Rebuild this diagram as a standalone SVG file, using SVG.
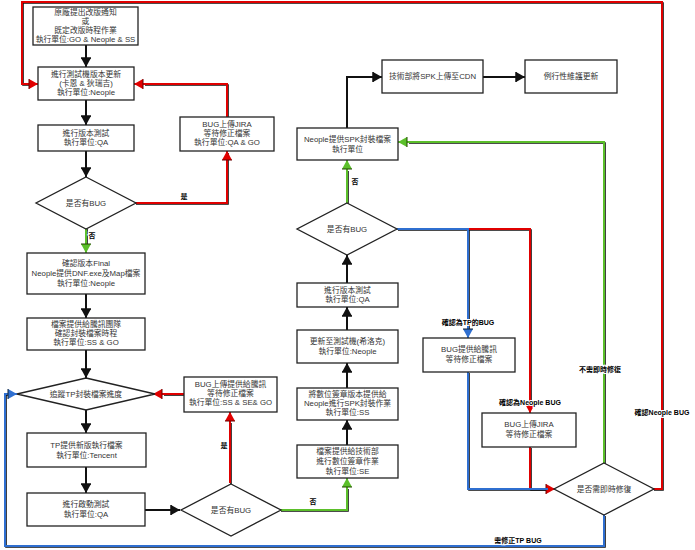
<svg xmlns="http://www.w3.org/2000/svg" width="695" height="550" viewBox="0 0 695 550">
<style>
.box{fill:#fff;stroke:#222;stroke-width:1.3}
.t{font-family:"Liberation Sans","Noto Sans CJK TC",sans-serif;font-size:7.8px;fill:#333;text-anchor:middle}
.lb{font-family:"Liberation Sans","Noto Sans CJK TC",sans-serif;font-size:7px;font-weight:bold;fill:#000;text-anchor:middle;stroke:#fff;stroke-width:2;paint-order:stroke}
.c{fill:none;stroke-width:2}
.s{fill:none;stroke:#111;stroke-width:1.6}
.k{stroke:#111}
.r{stroke:#e00000}
.g{stroke:#5bbf2a}
.b{stroke:#2f6fd0}
</style>
<defs>
<marker id="ak" markerUnits="userSpaceOnUse" markerWidth="12" markerHeight="12" refX="10" refY="5" orient="auto"><path d="M1,0 L10,5 L1,10 z" fill="#111"/><path d="M1,0 V10" stroke="#111" stroke-width="1.5"/></marker>
<marker id="ar" markerUnits="userSpaceOnUse" markerWidth="12" markerHeight="12" refX="10" refY="5" orient="auto"><path d="M1,0 L10,5 L1,10 z" fill="#e00000"/><path d="M1,0 V10" stroke="#600" stroke-width="1"/></marker>
<marker id="ag" markerUnits="userSpaceOnUse" markerWidth="12" markerHeight="12" refX="10" refY="5" orient="auto"><path d="M1,0 L10,5 L1,10 z" fill="#5bbf2a"/><path d="M1,0 V10" stroke="#240" stroke-width="1"/></marker>
<marker id="ab" markerUnits="userSpaceOnUse" markerWidth="12" markerHeight="12" refX="10" refY="5" orient="auto"><path d="M1,0 L10,5 L1,10 z" fill="#2f6fd0"/><path d="M1,0 V10" stroke="#123" stroke-width="1"/></marker>
</defs>
<rect width="695" height="550" fill="#fff"/>

<g id="connectors">
<g class="c k" marker-end="url(#ak)">
<path d="M86,45 V67"/>
<path d="M86,100 V125"/>
<path d="M86,151 V177"/>
<path d="M86,294 V318"/>
<path d="M86,350 V378"/>
<path d="M86,410 V433"/>
<path d="M86,467 V493"/>
<path d="M145,510 H180"/>
<path d="M347,445 V420"/>
<path d="M347,388 V363"/>
<path d="M347,330 V307"/>
<path d="M347,283 V255"/>
<path d="M347,128 V77 H382"/>
<path d="M483,77 H525"/>
</g>
<g class="s" transform="translate(1,1)">
<path d="M135,203 H227 V152"/>
<path d="M227,117 V84 H144"/>
<path d="M230,483 V422"/>
<path d="M184,394 H163"/>
<path d="M468,229 H530 V403"/>
<path d="M530,447 V489 H545"/>
<path d="M653,489 H662 V2 H22 V84 H28"/>
<path d="M86,228 V243"/>
<path d="M280,510 H347 V488"/>
<path d="M347,203 V170"/>
<path d="M604,463 V142 H408"/>
<path d="M397,229 H468 V328"/>
<path d="M468,372 V489 H548"/>
<path d="M604,515 V546 H5 V394 H7"/>
</g>
<g class="c r" marker-end="url(#ar)">
<path d="M135,203 H227 V151"/>
<path d="M227,117 V84 H134"/>
<path d="M230,483 V412"/>
<path d="M184,394 H153"/>
<path d="M468,229 H530 V413"/>
<path d="M530,447 V489 H555"/>
<path d="M653,489 H662 V2 H22 V84 H38"/>
</g>
<g class="c g" marker-end="url(#ag)">
<path d="M86,228 V253"/>
<path d="M280,510 H347 V478"/>
<path d="M347,203 V160"/>
<path d="M604,463 V142 H398"/>
</g>
<g class="c b">
<path d="M397,229 H468 V338" marker-end="url(#ab)"/>
<path d="M468,372 V489 H548"/>
<path d="M604,515 V546 H5 V394 H17" marker-end="url(#ab)"/>
</g>
<text class="lb" x="184" y="199">是</text>
<text class="lb" x="92" y="238">否</text>
<text class="lb" x="224" y="448">是</text>
<text class="lb" x="313" y="504">否</text>
<text class="lb" x="355" y="184">否</text>
<text class="lb" x="468" y="325">確認為TP的BUG</text>
<text class="lb" x="530" y="405">確認為Neople BUG</text>
<text class="lb" x="600" y="372">不需即時修復</text>
<text class="lb" x="662" y="415">確認Neople BUG</text>
<text class="lb" x="518" y="543">需修正TP BUG</text>
</g>

<g id="n1"><rect class="box" x="33" y="7" width="105" height="38"/><text class="t" x="85.5" y="15">原廠提出改版通知</text><text class="t" x="85.5" y="24">或</text><text class="t" x="85.5" y="33">既定改版時程作業</text><text class="t" x="85.5" y="42">執行單位:GO &amp; Neople &amp; SS</text></g>
<g id="n2"><rect class="box" x="38" y="67" width="96" height="33"/><text class="t" x="86" y="77">進行測試機版本更新</text><text class="t" x="86" y="86">(卡恩 &amp; 狄瑞吉)</text><text class="t" x="86" y="95">執行單位:Neople</text></g>
<g id="n3"><rect class="box" x="38" y="125" width="96" height="26"/><text class="t" x="86" y="136">進行版本測試</text><text class="t" x="86" y="145">執行單位:QA</text></g>
<g id="d1"><path class="box" d="M86,177 L136,203 L86,229 L36,203 Z"/><text class="t" x="86" y="206">是否有BUG</text></g>
<g id="n4"><rect class="box" x="180" y="117" width="94" height="34"/><text class="t" x="227" y="127">BUG上傳JIRA</text><text class="t" x="227" y="136">等待修正檔案</text><text class="t" x="227" y="145">執行單位:QA &amp; GO</text></g>
<g id="n5"><rect class="box" x="27" y="253" width="118" height="41"/><text class="t" x="86" y="266">確認版本Final</text><text class="t" x="86" y="276">Neople提供DNF.exe及Map檔案</text><text class="t" x="86" y="286">執行單位:Neople</text></g>
<g id="n6"><rect class="box" x="27" y="318" width="118" height="32"/><text class="t" x="86" y="327">檔案提供給騰訊團隊</text><text class="t" x="86" y="336">確認封裝檔案時程</text><text class="t" x="86" y="345">執行單位:SS &amp; GO</text></g>
<g id="d2"><path class="box" d="M86,378 L155,394 L86,410 L17,394 Z"/><text class="t" x="86" y="397">追蹤TP封裝檔案進度</text></g>
<g id="n7"><rect class="box" x="184" y="377" width="93" height="35"/><text class="t" x="230.5" y="387">BUG上傳提供給騰訊</text><text class="t" x="230.5" y="396">等待修正檔案</text><text class="t" x="230.5" y="405">執行單位:SS &amp; SE&amp; GO</text></g>
<g id="n8"><rect class="box" x="27" y="433" width="119" height="34"/><text class="t" x="86.5" y="448">TP提供新版執行檔案</text><text class="t" x="86.5" y="458">執行單位:Tencent</text></g>
<g id="n9"><rect class="box" x="27" y="493" width="118" height="33"/><text class="t" x="86" y="507">進行啟動測試</text><text class="t" x="86" y="517">執行單位:QA</text></g>
<g id="d3"><path class="box" d="M231,484 L281,510 L231,536 L181,510 Z"/><text class="t" x="231" y="513">是否有BUG</text></g>

<g id="n10"><rect class="box" x="297" y="445" width="101" height="33"/><text class="t" x="347.5" y="454">檔案提供給技術部</text><text class="t" x="347.5" y="464">進行數位簽章作業</text><text class="t" x="347.5" y="474">執行單位:SE</text></g>
<g id="n11"><rect class="box" x="297" y="388" width="101" height="32"/><text class="t" x="347.5" y="397">將數位簽章版本提供給</text><text class="t" x="347.5" y="406">Neople進行SPK封裝作業</text><text class="t" x="347.5" y="415">執行單位:SS</text></g>
<g id="n12"><rect class="box" x="297" y="330" width="101" height="33"/><text class="t" x="347.5" y="344">更新至測試機(希洛克)</text><text class="t" x="347.5" y="354">執行單位:Neople</text></g>
<g id="n13"><rect class="box" x="297" y="283" width="101" height="24"/><text class="t" x="347.5" y="293">進行版本測試</text><text class="t" x="347.5" y="302">執行單位:QA</text></g>
<g id="d4"><path class="box" d="M347,203 L397,229 L347,255 L297,229 Z"/><text class="t" x="347" y="232">是否有BUG</text></g>
<g id="n14"><rect class="box" x="297" y="128" width="101" height="32"/><text class="t" x="347.5" y="142">Neople提供SPK封裝檔案</text><text class="t" x="347.5" y="152">執行單位</text></g>
<g id="n15"><rect class="box" x="382" y="60" width="101" height="33"/><text class="t" x="432.5" y="79">技術部將SPK上傳至CDN</text></g>
<g id="n16"><rect class="box" x="525" y="60" width="92" height="33"/><text class="t" x="571" y="79">例行性維護更新</text></g>
<g id="n17"><rect class="box" x="423" y="338" width="92" height="34"/><text class="t" x="469" y="352">BUG提供給騰訊</text><text class="t" x="469" y="362">等待修正檔案</text></g>
<g id="n18"><rect class="box" x="482" y="413" width="94" height="34"/><text class="t" x="529" y="427">BUG上傳JIRA</text><text class="t" x="529" y="437">等待修正檔案</text></g>
<g id="d5"><path class="box" d="M604,463 L654,489 L604,515 L554,489 Z"/><text class="t" x="604" y="492">是否需即時修復</text></g>
</svg>
